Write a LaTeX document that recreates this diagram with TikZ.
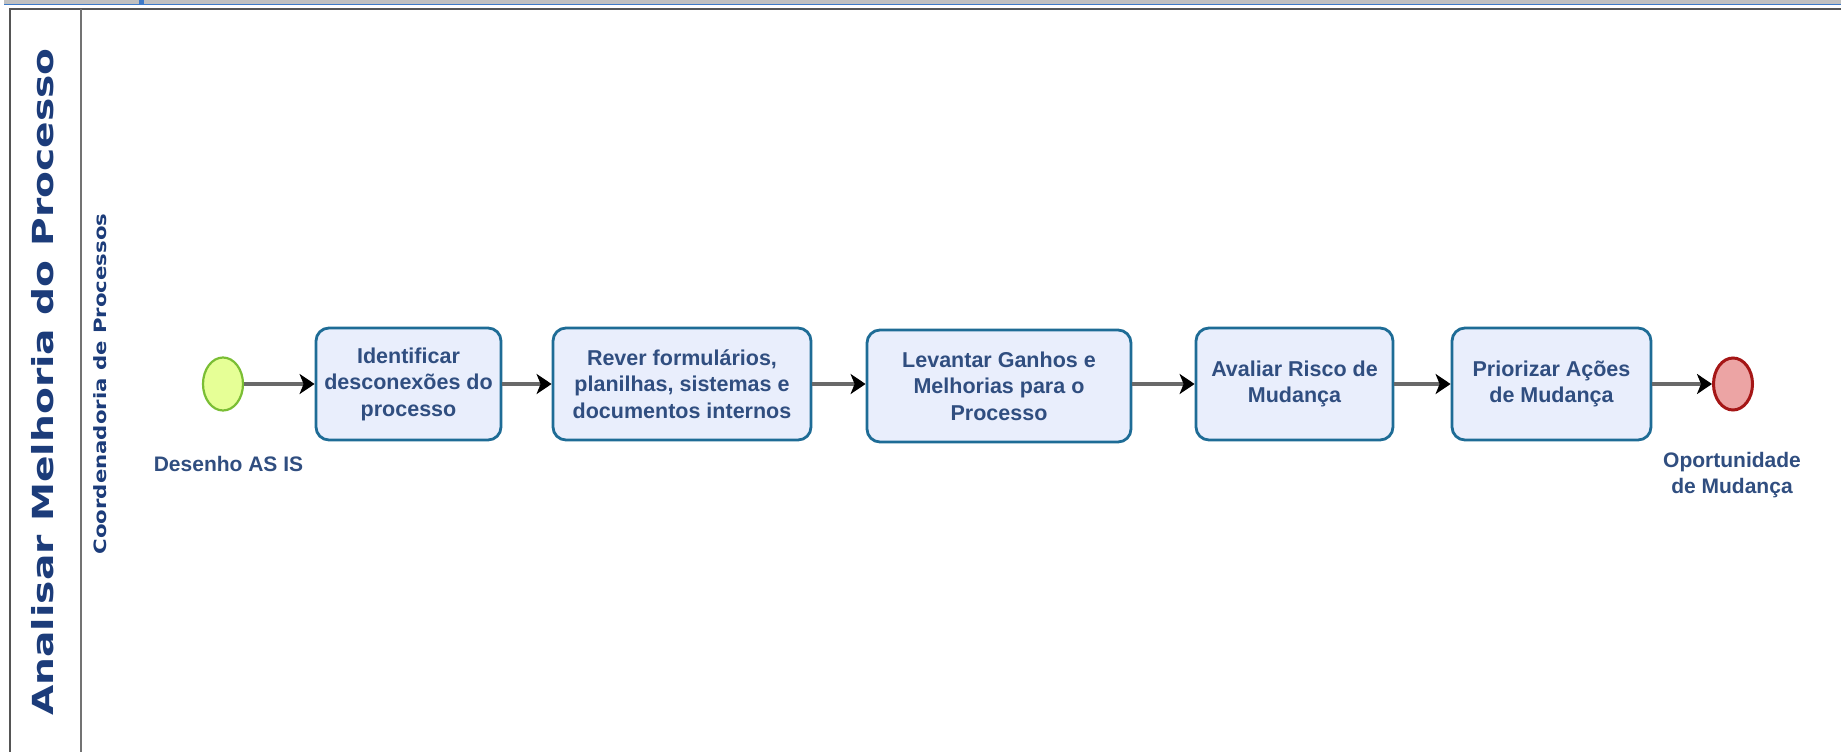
\documentclass[tikz,border=0pt]{standalone}
\usepackage{fontspec}
\setmainfont{Liberation Sans}
\newfontfamily\headfont{DejaVu Sans}
\usetikzlibrary{arrows.meta,shapes.geometric}

\definecolor{taskfill}{RGB}{233,238,252}
\definecolor{taskdraw}{RGB}{30,108,150}
\definecolor{tasktext}{RGB}{48,78,128}
\definecolor{headtext}{RGB}{28,60,122}
\definecolor{startfill}{RGB}{230,255,150}
\definecolor{startdraw}{RGB}{122,190,52}
\definecolor{endfill}{RGB}{236,164,164}
\definecolor{enddraw}{RGB}{165,22,22}
\definecolor{flowgray}{RGB}{105,105,105}
\definecolor{poolline}{RGB}{85,85,85}
\definecolor{divline}{RGB}{115,115,115}
\definecolor{barstripe}{RGB}{192,192,192}
\definecolor{barblue}{RGB}{62,122,200}

\tikzset{
  task/.style={draw=taskdraw, fill=taskfill, line width=2.8pt, rounded corners=13pt,
    minimum height=112pt, inner sep=2pt, align=center, text=tasktext,
    font=\fontsize{21.5}{26.5}\selectfont\bfseries},
  startev/.style={ellipse, draw=startdraw, fill=startfill, line width=2.2pt,
    minimum width=40pt, minimum height=53pt, inner sep=0pt},
  endev/.style={ellipse, draw=enddraw, fill=endfill, line width=3pt,
    minimum width=39pt, minimum height=52pt, inner sep=0pt},
  evlabel/.style={align=center, text=tasktext, inner sep=0pt,
    font=\fontsize{21}{26}\selectfont\bfseries},
  flow/.style={draw=flowgray, line width=3.4pt,
    -{Stealth[length=15pt,width=20pt,inset=4pt,fill=black,color=black]}},
  poolhead/.style={rotate=90, anchor=base, inner sep=0pt, text=headtext},
}

\begin{document}
\begin{tikzpicture}[x=1pt, y=-1pt]
  \useasboundingbox (0,0) rectangle (1841,752);
  \fill[white] (0,0) rectangle (1841,752);

  % window strip above the pool
  \fill[barstripe] (4,0) rectangle (1841,3.6);
  \fill[barblue] (4,3.6) rectangle (1841,5.2);
  \fill[barblue] (139,0) rectangle (144,3.6);

  % pool frame and header divider
  \draw[poolline, line width=2pt] (1841,9.5) -- (10,9.5) -- (10,752);
  \draw[divline, line width=2pt] (81,9.5) -- (81,752);

  % pool and lane titles
  \node[poolhead] (pool) at (53,382)
    {\scalebox{1.35}[1]{\headfont\fontsize{29}{34}\selectfont\bfseries Analisar Melhoria do Processo}};
  \node[poolhead] (lane) at (106.5,384)
    {\scalebox{1.25}[1]{\headfont\fontsize{17}{20}\selectfont\bfseries Coordenadoria de Processos}};

  % events
  \node[startev] (s) at (223,384) {};
  \node[endev] (e) at (1733,384) {};
  \node[evlabel] (slbl) at (228.5,463.5) {Desenho AS IS};
  \node[evlabel] (elbl) at (1732,475) {Oportunidade\\de Mudança};

  % tasks
  \node[task, minimum width=185pt] (b1) at (408.5,384) {Identificar\\desconexões do\\processo};
  \node[task, minimum width=258pt] (b2) at (682,384) {Rever formulários,\\planilhas, sistemas e\\documentos internos};
  \node[task, minimum width=264pt] (b3) at (999,386) {Levantar Ganhos e\\Melhorias para o\\Processo};
  \node[task, minimum width=197pt] (b4) at (1294.5,384) {Avaliar Risco de\\Mudança};
  \node[task, minimum width=199pt] (b5) at (1551.5,384) {Priorizar Ações\\de Mudança};

  % sequence flows
  \draw[flow] (s) -- (b1);
  \draw[flow] (b1) -- (b2);
  \draw[flow] (b2.east) -- (b2.east -| b3.west);
  \draw[flow] (b3.east |- b4.west) -- (b4.west);
  \draw[flow] (b4) -- (b5);
  \draw[flow] (b5) -- (e);
\end{tikzpicture}
\end{document}
